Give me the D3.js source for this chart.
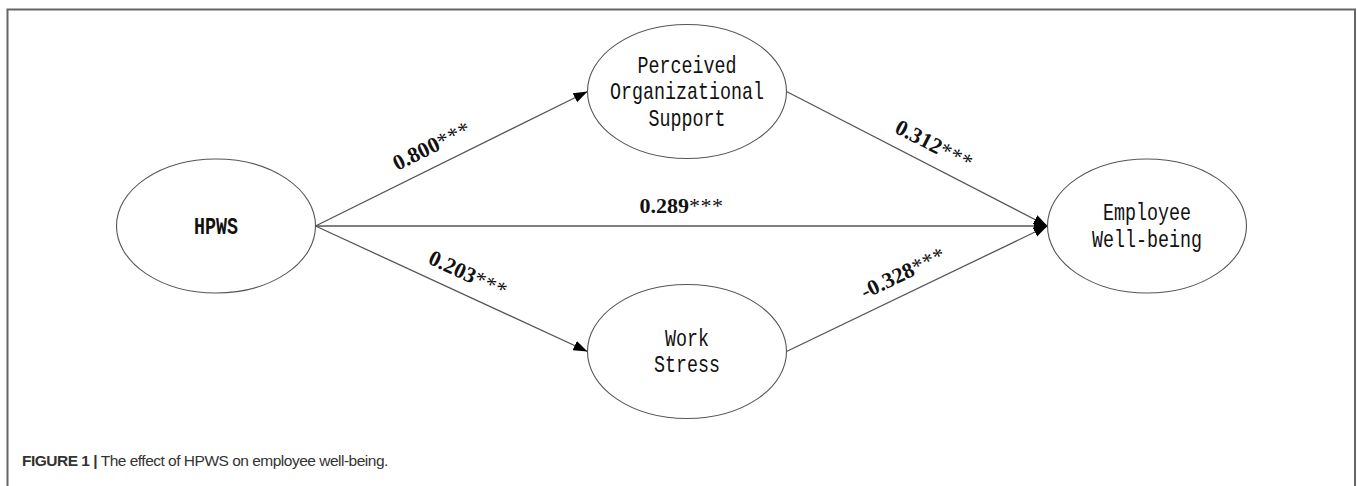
<!DOCTYPE html>
<html>
<head>
<meta charset="utf-8">
<script src="https://cdn.jsdelivr.net/npm/d3@7"></script>
<style>
  html, body { margin: 0; padding: 0; background: #fff; }
  svg { display: block; }
</style>
</head>
<body>
<svg id="diagram"></svg>
<script>
// model data
var nodeLines = [["HPWS"], ["Perceived", "Organizational", "Support"], ["Work", "Stress"], ["Employee", "Well-being"]];
var nodeCol = [0, 1, 1, 2];
var nodeRow = [0, -1, 1, 0];

var pathFrom = [0, 0, 0, 1, 2];
var pathTo = [1, 2, 3, 3, 3];
var coefficients = [0.800, 0.203, 0.289, 0.312, -0.328];
var significance = ["***", "***", "***", "***", "***"];

var caption = ["FIGURE 1 |", " The effect of HPWS on employee well-being."];

var width = 1357, height = 486;

var svg = d3.select("svg#diagram")
  .attr("width", width)
  .attr("height", height);

var x = d3.scaleLinear().domain([0, 1, 2]).range([216, 687, 1147]);
var y = d3.scaleLinear().domain([-1, 0, 1]).range([91.5, 226, 351.5]);
var rx = 99.5, ry = 67;

// where along each path the coefficient sits
var labelAt = [0.46, 0.53, 0.5, 0.53, 0.48];

var fmt = d3.formatLocale({decimal: ".", thousands: ",", grouping: [3], currency: ["", ""], minus: "-"}).format(".3f");

// frame
svg.append("path")
  .attr("d", "M7.5," + height + "V9.5H1355V" + height)
  .attr("fill", "none")
  .attr("stroke", "#666")
  .attr("stroke-width", 2);

svg.append("defs").append("marker")
  .attr("id", "arrow")
  .attr("markerUnits", "userSpaceOnUse")
  .attr("viewBox", "0 -6 14 12")
  .attr("refX", 14)
  .attr("refY", 0)
  .attr("markerWidth", 14)
  .attr("markerHeight", 12)
  .attr("orient", "auto")
  .append("path")
  .attr("d", "M0,-5L14,0L0,5Z")
  .attr("fill", "#000");

var nodes = nodeLines.map(function(lines, i) {
  return {lines: lines, cx: x(nodeCol[i]), cy: y(nodeRow[i])};
});

var edges = pathFrom.map(function(f, i) {
  var s = nodes[f], t = nodes[pathTo[i]];
  return {
    x1: s.cx + rx, y1: s.cy,
    x2: t.cx - rx, y2: t.cy,
    value: fmt(coefficients[i]),
    stars: significance[i],
    at: labelAt[i]
  };
});

var eg = svg.append("g").attr("id", "edges");

eg.selectAll("line")
  .data(edges)
  .enter().append("line")
  .attr("x1", d => d.x1)
  .attr("y1", d => d.y1)
  .attr("x2", d => d.x2)
  .attr("y2", d => d.y2)
  .attr("stroke", "#555")
  .attr("stroke-width", 1.3)
  .attr("marker-end", "url(#arrow)");

var labels = eg.selectAll("text")
  .data(edges)
  .enter().append("text")
  .attr("transform", function(d) {
    var dx = d.x2 - d.x1, dy = d.y2 - d.y1;
    var len = Math.sqrt(dx * dx + dy * dy);
    var ux = dx / len, uy = dy / len;
    var off = 13;
    var px = d.x1 + dx * d.at + uy * off;
    var py = d.y1 + dy * d.at - ux * off;
    var ang = Math.atan2(dy, dx) * 180 / Math.PI;
    return translate(px, py) + " rotate(" + ang + ")";
  })
  .attr("text-anchor", "middle")
  .attr("font-family", "'Liberation Serif', 'Times New Roman', serif")
  .attr("font-size", 22)
  .attr("fill", "#111");

labels.append("tspan").attr("font-weight", "bold").text(d => d.value);
labels.append("tspan").attr("letter-spacing", 0.5).text(d => d.stars);

var ng = svg.append("g").attr("id", "nodes")
  .selectAll("g")
  .data(nodes)
  .enter().append("g")
  .attr("transform", d => translate(d.cx, d.cy));

ng.append("ellipse")
  .attr("rx", rx)
  .attr("ry", ry)
  .attr("fill", "#fff")
  .attr("stroke", "#555")
  .attr("stroke-width", 1.1);

var lineGap = 26.5;
ng.each(function(d) {
  var g = d3.select(this);
  var n = d.lines.length;
  d.lines.forEach(function(line, k) {
    g.append("text")
      .attr("x", 0)
      .attr("y", (k - (n - 1) / 2) * lineGap + 7.5)
      .attr("text-anchor", "middle")
      .attr("font-family", "'Liberation Mono', 'Courier New', monospace")
      .attr("font-size", 24)
      .attr("font-weight", n == 1 ? "bold" : "normal")
      .attr("textLength", line.length * 11)
      .attr("lengthAdjust", "spacingAndGlyphs")
      .attr("fill", "#111")
      .text(line);
  });
});

// caption
var cap = svg.append("text")
  .attr("x", 22)
  .attr("y", 466)
  .attr("font-family", "'Liberation Sans', Arial, sans-serif")
  .attr("font-size", 15.5)
  .attr("letter-spacing", -0.5)
  .attr("fill", "#333");
cap.append("tspan").attr("font-weight", "bold").text(caption[0]);
cap.append("tspan").text(caption[1]);

function translate(x, y) {
  return 'translate(' + String(x) + ',' + String(y) + ')';
}
</script>
</body>
</html>
